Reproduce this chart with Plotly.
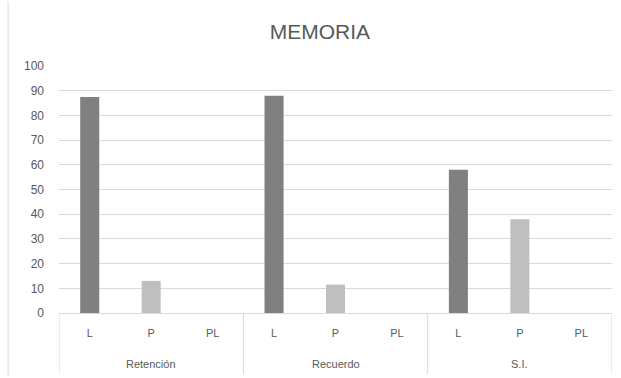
import plotly.graph_objects as go

group_names = ["Retención", "Recuerdo", "S.I."]
subcats = ["L", "P", "PL"]
values = {
    "Retención": [87.5, 13, 0],
    "Recuerdo": [88, 11.5, 0],
    "S.I.": [58, 38, 0],
}
sub_colors = ["#808080", "#bfbfbf", "#a5a5a5"]

xs, ys, cols, labels = [], [], [], []
for gi, g in enumerate(group_names):
    for si, s in enumerate(subcats):
        xs.append(gi * len(subcats) + si)
        ys.append(values[g][si])
        cols.append(sub_colors[si])
        labels.append(s)

n = len(xs)
fig = go.Figure()
fig.add_trace(go.Bar(
    x=xs, y=ys,
    marker=dict(color=cols, line=dict(width=0)),
    width=0.31,
    showlegend=False,
))

PLOT_H = 378 - 66 - 65
def py(pix):
    # pixel offset below the x axis -> paper coordinate
    return -pix / PLOT_H

fig.update_layout(
    width=621, height=378,
    margin=dict(l=59, r=9, t=66, b=65),
    paper_bgcolor="white", plot_bgcolor="white",
    title=dict(text="MEMORIA", x=0.515, xanchor="center", y=0.915, yanchor="middle",
               font=dict(family="Liberation Sans", size=21, color="#595959")),
    font=dict(family="Liberation Sans", size=11, color="#595959"),
)
fig.update_yaxes(range=[0, 100], dtick=10, showgrid=True, gridcolor="#d9d9d9", gridwidth=1,
                 zeroline=False, showline=False, ticks="", ticklabelstandoff=14,
                 tickfont=dict(size=12, color="#595959"))
fig.update_xaxes(range=[-0.5, n - 0.5], tickmode="array", tickvals=xs, ticktext=labels,
                 showline=True, linecolor="#d9d9d9", linewidth=1, showgrid=False,
                 zeroline=False, ticks="", ticklabelstandoff=10,
                 tickfont=dict(size=11, color="#595959"))

k = len(subcats)
for gi, g in enumerate(group_names):
    fig.add_annotation(x=gi * k + (k - 1) / 2, y=py(51), xref="x", yref="paper",
                       text=g, showarrow=False, yanchor="middle",
                       font=dict(size=11, color="#595959"))
for b in range(len(group_names) + 1):
    fig.add_shape(type="line", xref="x", yref="paper", x0=b * k - 0.5, x1=b * k - 0.5,
                  y0=0, y1=py(61), line=dict(color="#d9d9d9", width=1))

fig.add_shape(type="line", xref="paper", yref="paper", x0=-0.092, x1=-0.092, y0=-0.255, y1=1.26,
              line=dict(color="#d9d9d9", width=1))

fig.write_html("out.html")
